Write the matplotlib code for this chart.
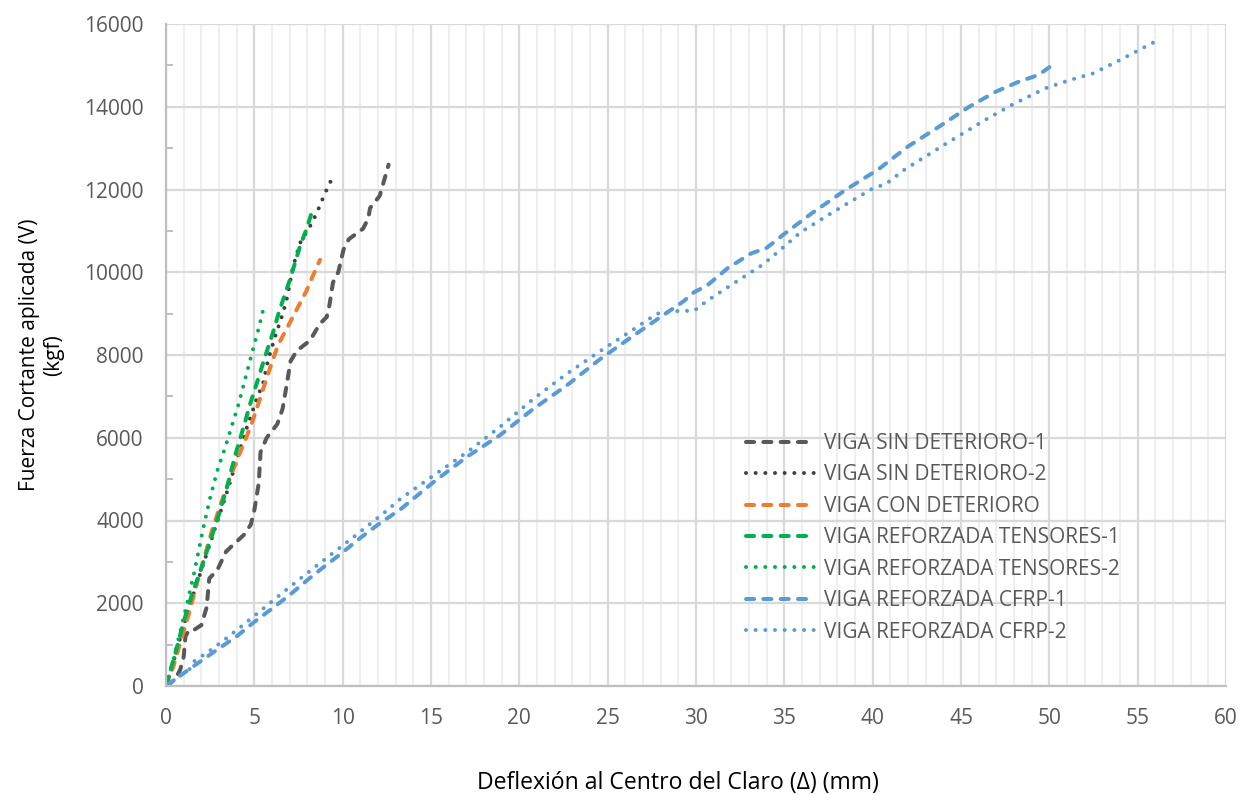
import matplotlib
matplotlib.use("Agg")
import matplotlib.pyplot as plt
from matplotlib.ticker import MultipleLocator

plt.rcParams['font.family'] = ['Open Sans', 'DejaVu Sans']

# Deflection (mm) and applied shear (kgf) for each beam test
sin_det1_x = [0, 0.5, 0.8, 1.0, 1.1, 1.3, 1.6, 2.0, 2.3, 2.45, 2.9, 3.4, 3.9, 4.4, 4.8, 5.0,
              5.25, 5.35, 5.7, 6.3, 6.6, 6.8, 7.05, 7.4, 8.15, 8.7, 9.1, 9.25, 9.45, 9.75,
              10.05, 10.35, 11.15, 11.45, 11.55, 12.1, 12.3, 12.6]
sin_det1_y = [0, 150, 390, 700, 1200, 1350, 1360, 1470, 1900, 2600, 2800, 3250, 3450, 3650,
              3900, 4250, 4900, 5650, 6000, 6330, 6700, 7200, 7850, 8100, 8350, 8750, 8920,
              9200, 9750, 10000, 10550, 10800, 11050, 11300, 11550, 11850, 12150, 12600]

sin_det2_x = [0, 0.5, 1.0, 1.5, 2.0, 2.5, 3.0, 3.5, 4.0, 4.5, 5.15, 5.5, 5.78, 6.17, 6.62,
              6.85, 7.19, 7.58, 8.26, 8.6, 9.0, 9.4]
sin_det2_y = [0, 700, 1450, 2150, 2800, 3450, 4100, 4750, 5450, 6150, 6960, 7320, 7880, 8440,
              9010, 9380, 10130, 10700, 11190, 11500, 11910, 12270]

con_det_x = [0, 0.4, 0.8, 1.3, 1.7, 2.1, 2.6, 3.1, 3.6, 4.0, 4.4, 4.9, 5.4, 5.9, 6.35, 6.85,
             7.4, 7.95, 8.35, 8.72]
con_det_y = [0, 450, 1030, 1750, 2400, 3000, 3750, 4400, 5000, 5450, 5850, 6400, 7050, 7700,
             8250, 8650, 9100, 9550, 9950, 10300]

tens1_x = [0, 0.5, 1.0, 1.5, 2.0, 2.5, 3.0, 3.45, 3.9, 4.4, 4.75, 5.2, 5.6, 6.1, 6.4, 7.0,
           7.58, 8.0, 8.32]
tens1_y = [0, 750, 1550, 2250, 2850, 3500, 4150, 4800, 5550, 6270, 6800, 7400, 7950, 8600,
           9050, 9800, 10620, 11100, 11550]

tens2_x = [0, 0.4, 0.8, 1.2, 1.6, 2.1, 2.5, 2.9, 3.3, 3.7, 4.1, 4.5, 4.9, 5.25, 5.55]
tens2_y = [0, 600, 1300, 2000, 2750, 3800, 4550, 5200, 5700, 6250, 6800, 7450, 8100, 8650, 9180]

cfrp1_x = [0, 0.8, 1.5, 2.9, 4.0, 5.0, 6.0, 7.0, 8.0, 9.0, 10.0, 11.0, 12.0, 13.3, 15.15,
           17.0, 18.9, 20.8, 22.7, 24.6, 26.5, 28.0, 29.3, 29.9, 30.6, 31.8, 33.1, 34.0,
           35.1, 36.6, 38.5, 40.3, 42.0, 43.8, 45.5, 47.0, 48.3, 49.4, 50.17]
cfrp1_y = [0, 250, 460, 880, 1200, 1550, 1870, 2200, 2560, 2900, 3230, 3580, 3900, 4280,
           4930, 5530, 6060, 6700, 7270, 7910, 8480, 8920, 9300, 9520, 9670, 10100, 10450,
           10590, 10960, 11440, 12000, 12480, 13040, 13530, 14010, 14370, 14610, 14770, 15010]

cfrp2_x = [0, 0.8, 1.4, 1.6, 2.5, 3.5, 4.5, 5.5, 6.5, 7.5, 8.5, 9.5, 10.5, 11.5, 12.5, 13.26,
           15.15, 17.04, 18.9, 20.8, 22.7, 24.6, 26.5, 27.8, 28.8, 29.9, 30.6, 32.2, 33.8,
           34.8, 35.9, 37.7, 39.9, 40.8, 41.8, 44.2, 46.4, 47.9, 49.8, 51.2, 52.5, 54.0, 56.1]
cfrp2_y = [0, 250, 430, 600, 860, 1180, 1520, 1870, 2220, 2560, 2900, 3230, 3560, 3900, 4240,
           4520, 5090, 5650, 6260, 6940, 7550, 8100, 8630, 9000, 9060, 9070, 9300, 9750, 10190,
           10550, 10960, 11440, 12000, 12150, 12480, 13120, 13690, 14050, 14450, 14650, 14810,
           15130, 15600]

labels = ["VIGA SIN DETERIORO-1", "VIGA SIN DETERIORO-2", "VIGA CON DETERIORO",
          "VIGA REFORZADA TENSORES-1", "VIGA REFORZADA TENSORES-2",
          "VIGA REFORZADA CFRP-1", "VIGA REFORZADA CFRP-2"]

GRAY = "#595959"
GRAY_DOT = "#404040"
ORANGE = "#ED7D31"
GREEN = "#00B050"
BLUE = "#5B9BD5"

FS = 15

fig = plt.figure(figsize=(12.41, 7.95), dpi=100)
ax = fig.add_axes([166 / 1241, 1 - 686 / 795, 1060 / 1241, 662 / 795])

LW = 2.9
dash = (2.0, 2.3)
dot = (0.0001, 2.4)

series = [
    (sin_det1_x, sin_det1_y, GRAY, dash),
    (sin_det2_x, sin_det2_y, GRAY_DOT, dot),
    (con_det_x, con_det_y, ORANGE, dash),
    (tens1_x, tens1_y, GREEN, dash),
    (tens2_x, tens2_y, GREEN, dot),
    (cfrp1_x, cfrp1_y, BLUE, dash),
    (cfrp2_x, cfrp2_y, BLUE, dot),
]
for (xs, ys, col, pat), lab in zip(series, labels):
    ln, = ax.plot(xs, ys, color=col, lw=LW, label=lab, solid_capstyle='round',
                  dash_capstyle='round', dash_joinstyle='round')
    ln.set_dashes(pat)

ax.set_xlim(0, 60)
ax.set_ylim(0, 16000)
ax.xaxis.set_major_locator(MultipleLocator(5))
ax.xaxis.set_minor_locator(MultipleLocator(1))
ax.yaxis.set_major_locator(MultipleLocator(2000))
ax.yaxis.set_minor_locator(MultipleLocator(1000))

ax.grid(which='minor', axis='x', color='#EFEFEF', lw=1.5, zorder=0)
ax.grid(which='major', axis='x', color='#D9D9D9', lw=1.6, zorder=0)
ax.grid(which='major', axis='y', color='#D9D9D9', lw=1.6, zorder=0)
ax.set_axisbelow(True)

for side in ['top', 'right']:
    ax.spines[side].set_visible(False)
for side in ['left', 'bottom']:
    ax.spines[side].set_color('#BFBFBF')
    ax.spines[side].set_linewidth(1.6)

ax.tick_params(axis='x', which='both', length=0, pad=16, labelsize=FS, labelcolor=GRAY)
ax.tick_params(axis='y', which='major', length=0, pad=16, labelsize=FS, labelcolor=GRAY)
ax.tick_params(axis='y', which='minor', direction='in', length=5, width=1.4, color='#BFBFBF')

ax.set_xlabel("Deflexión al Centro del Claro (Δ) (mm)", fontsize=16.6, color='black')
ax.xaxis.set_label_coords((678 - 166) / 1060, (686 - 783) / 662)
ax.xaxis.label.set_va('center')

ax.set_ylabel("Fuerza Cortante aplicada (V)\n(kgf)", fontsize=FS, color='black',
              multialignment='center')
ax.yaxis.set_label_coords((42 - 166) / 1060, 0.5)
ax.yaxis.label.set_va('center')

leg = ax.legend(loc='upper left', bbox_to_anchor=(746 / 1241, 1 - 433 / 795),
                bbox_transform=fig.transFigure, frameon=False, fontsize=FS,
                handlelength=3.3, handletextpad=0.45, labelspacing=0.50, borderpad=0,
                borderaxespad=0)
for t in leg.get_texts():
    t.set_color(GRAY)

fig.savefig("out.png", dpi=100)
